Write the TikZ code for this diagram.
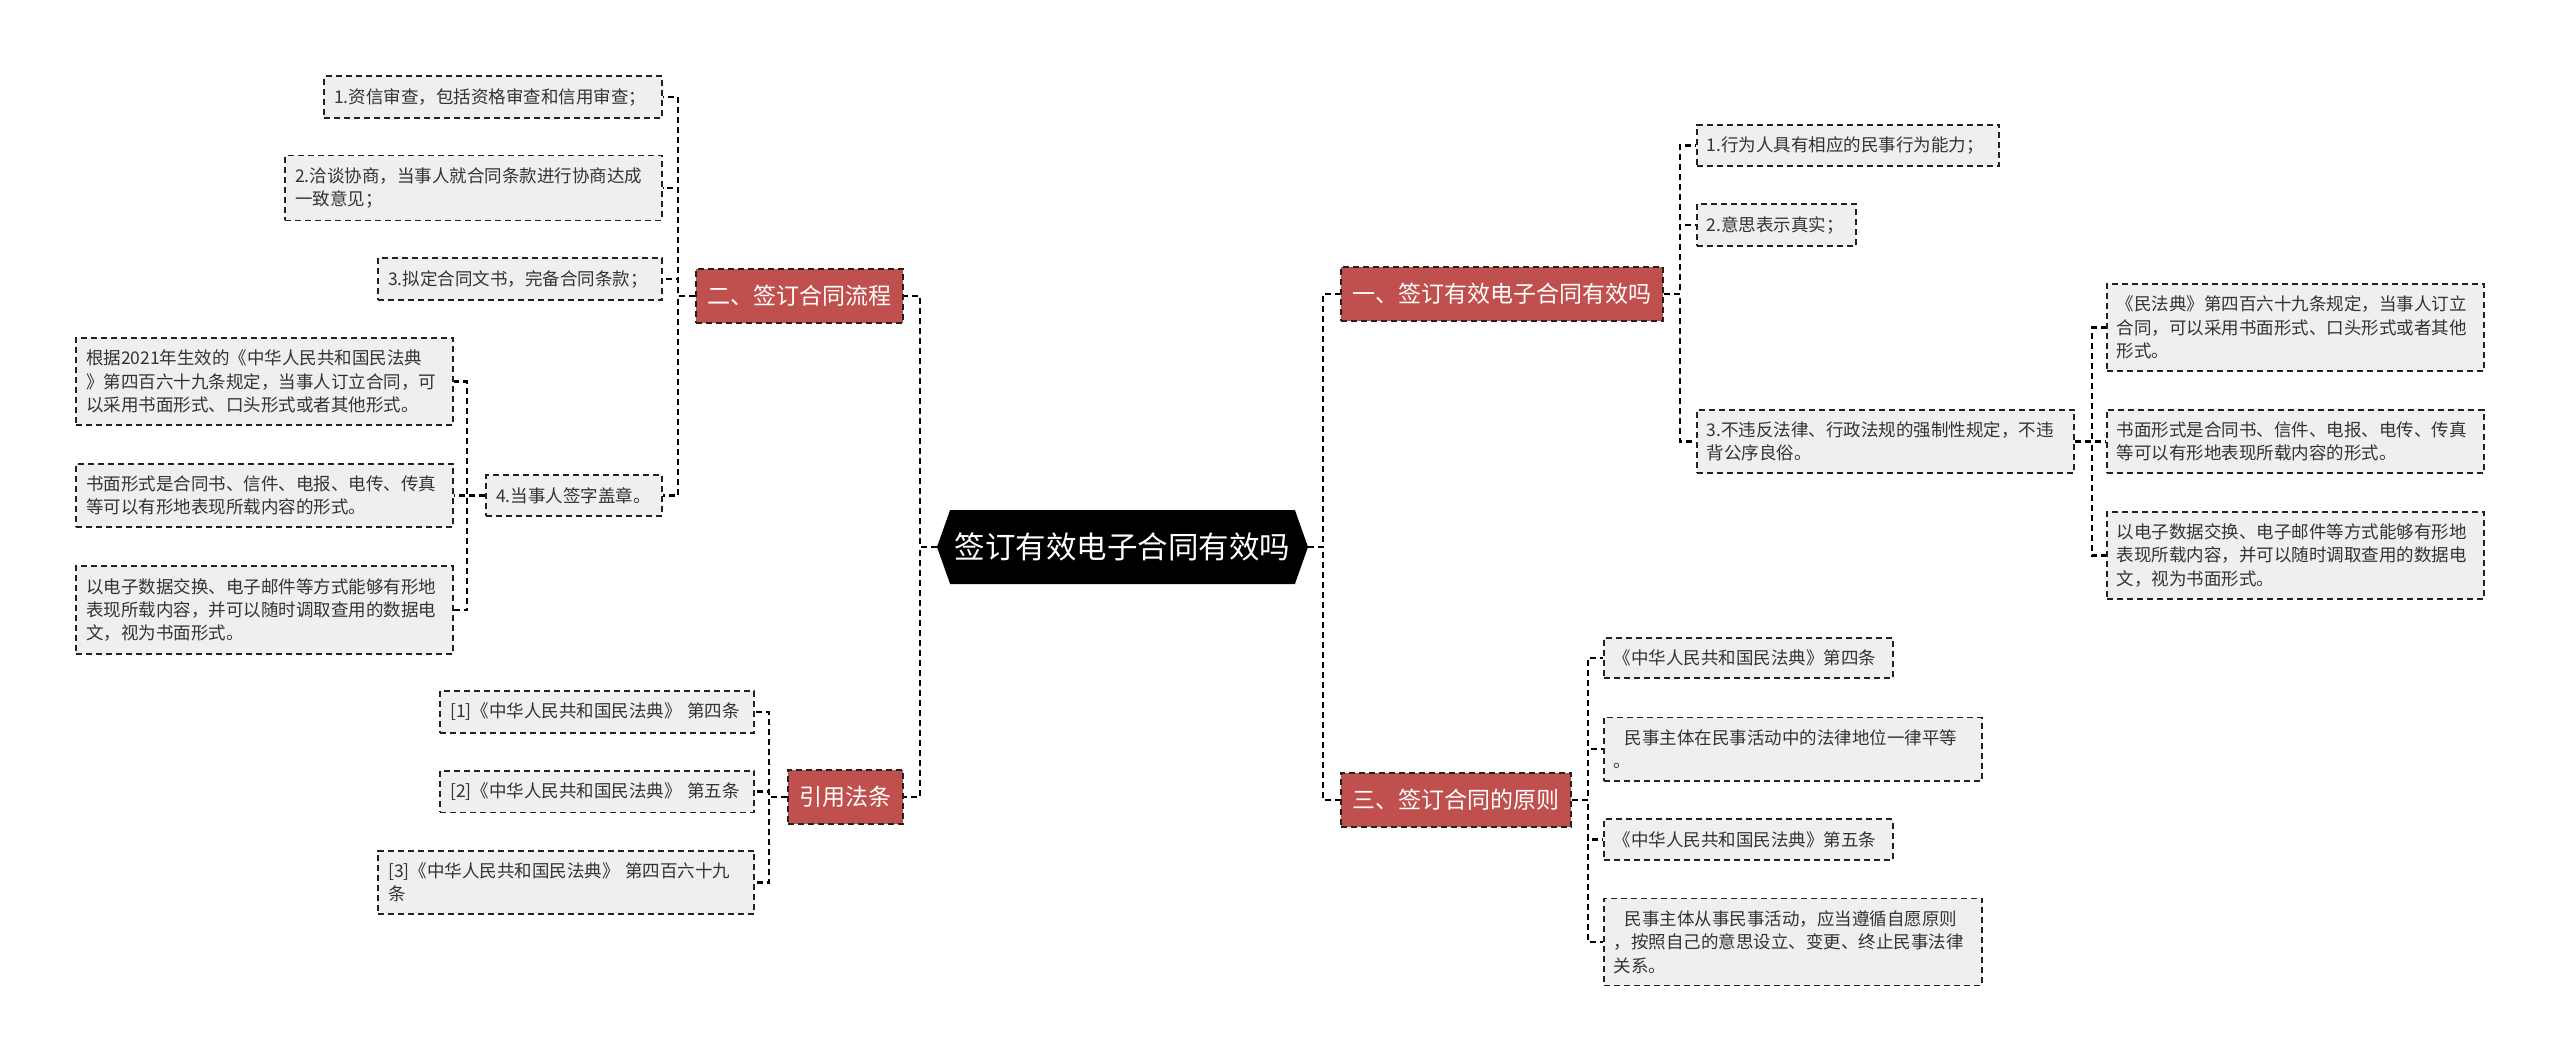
\documentclass[tikz,border=0pt]{standalone}
\usepackage{fontspec}
\setmainfont{Noto Sans CJK SC}
\usetikzlibrary{shapes.symbols,positioning}

\definecolor{branchred}{RGB}{192,80,77}
\definecolor{leafgray}{RGB}{239,239,239}
\definecolor{textgray}{RGB}{51,51,51}
\definecolor{edgegray}{RGB}{34,34,34}

\tikzset{
  basic/.style  = {draw=edgegray, line width=1.8pt, dash pattern=on 6pt off 4pt, rectangle},
  root/.style   = {signal, signal to=east and west, signal pointer angle=141,
                   fill=black, text=white, font=\fontsize{30.5}{36}\selectfont,
                   minimum width=371pt, minimum height=74pt, inner sep=0pt},
  branch/.style = {basic, fill=branchred, text=white, font=\fontsize{23}{28}\selectfont,
                   minimum height=54pt, inner xsep=11.5pt, inner ysep=0pt},
  leaf/.style   = {basic, fill=leafgray, text=textgray, align=left, text width=#1,
                   font=\fontsize{17.5}{23.3}\selectfont, inner xsep=10pt, inner ysep=12pt},
  link/.style   = {draw=black, line width=2.1pt, dash pattern=on 6pt off 4pt}
}

\begin{document}
\begin{tikzpicture}[x=1pt, y=-1pt]
\useasboundingbox (0,0) rectangle (2560,1063);

% the root in the middle
\node[root] (root) at (1122.5,547) {签订有效电子合同有效吗};

% first level, left and right of the root
\node[branch, anchor=east] (b2)  at (904,296)  {二、签订合同流程};
\node[branch, anchor=east] (ref) at (904,797)  {引用法条};
\node[branch, anchor=west] (b1)  at (1340,294) {一、签订有效电子合同有效吗};
\node[branch, anchor=west] (b3)  at (1340,800) {三、签订合同的原则};

% children of b2
\node[leaf=318pt, anchor=east] (b2c1) at (663,97)  {1.资信审查，包括资格审查和信用审查；};
\node[leaf=357pt, anchor=east] (b2c2) at (663,188) {2.洽谈协商，当事人就合同条款进行协商达成\\一致意见；};
\node[leaf=264pt, anchor=east] (b2c3) at (663,279) {3.拟定合同文书，完备合同条款；};
\node[leaf=156pt, anchor=east] (b2c4) at (663,495.5) {4.当事人签字盖章。};
\node[leaf=357pt, anchor=east] (b2c4a) at (454,381.5) {根据2021年生效的《中华人民共和国民法典\\》第四百六十九条规定，当事人订立合同，可\\以采用书面形式、口头形式或者其他形式。};
\node[leaf=357pt, anchor=east] (b2c4b) at (454,495.5) {书面形式是合同书、信件、电报、电传、传真\\等可以有形地表现所载内容的形式。};
\node[leaf=357pt, anchor=east] (b2c4c) at (454,610)   {以电子数据交换、电子邮件等方式能够有形地\\表现所载内容，并可以随时调取查用的数据电\\文，视为书面形式。};

% children of ref
\node[leaf=294pt, anchor=east] (ref1) at (755,712)   {[1]《中华人民共和国民法典》~第四条};
\node[leaf=294pt, anchor=east] (ref2) at (755,791.5) {[2]《中华人民共和国民法典》~第五条};
\node[leaf=356pt, anchor=east] (ref3) at (755,882.5) {[3]《中华人民共和国民法典》~第四百六十九\\条};

% children of b1
\node[leaf=282pt, anchor=west] (b1c1) at (1696,145.5) {1.行为人具有相应的民事行为能力；};
\node[leaf=139pt, anchor=west] (b1c2) at (1696,225)   {2.意思表示真实；};
\node[leaf=357pt, anchor=west] (b1c3) at (1696,441.5) {3.不违反法律、行政法规的强制性规定，不违\\背公序良俗。};
\node[leaf=357pt, anchor=west] (b1c3a) at (2106,327.5) {《民法典》第四百六十九条规定，当事人订立\\合同，可以采用书面形式、口头形式或者其他\\形式。};
\node[leaf=357pt, anchor=west] (b1c3b) at (2106,441.5) {书面形式是合同书、信件、电报、电传、传真\\等可以有形地表现所载内容的形式。};
\node[leaf=357pt, anchor=west] (b1c3c) at (2106,555.5) {以电子数据交换、电子邮件等方式能够有形地\\表现所载内容，并可以随时调取查用的数据电\\文，视为书面形式。};

% children of b3
\node[leaf=269pt, anchor=west] (b3c1) at (1603,658)   {《中华人民共和国民法典》第四条};
\node[leaf=358pt, anchor=west] (b3c2) at (1603,749)   {\hspace*{11pt}民事主体在民事活动中的法律地位一律平等\\。};
\node[leaf=269pt, anchor=west] (b3c3) at (1603,839.5) {《中华人民共和国民法典》第五条};
\node[leaf=358pt, anchor=west] (b3c4) at (1603,942)   {\hspace*{11pt}民事主体从事民事活动，应当遵循自愿原则\\，按照自己的意思设立、变更、终止民事法律\\关系。};

% connectors
\draw[link] (root.west) -- ++(-17,0) |- (b2.east);
\draw[link] (root.west) -- ++(-17,0) |- (ref.east);
\draw[link] (root.east) -- ++(15,0) |- (b1.west);
\draw[link] (root.east) -- ++(15,0) |- (b3.west);

\draw[link] (b2.west) -- ++(-17,0) |- (b2c1.east);
\draw[link] (b2.west) -- ++(-17,0) |- (b2c2.east);
\draw[link] (b2.west) -- ++(-17,0) |- (b2c3.east);
\draw[link] (b2.west) -- ++(-17,0) |- (b2c4.east);
\draw[link] (b2c4.west) -- ++(-18,0) |- (b2c4a.east);
\draw[link] (b2c4.west) -- ++(-18,0) |- (b2c4b.east);
\draw[link] (b2c4.west) -- ++(-18,0) |- (b2c4c.east);

\draw[link] (ref.west) -- ++(-18,0) |- (ref1.east);
\draw[link] (ref.west) -- ++(-18,0) |- (ref2.east);
\draw[link] (ref.west) -- ++(-18,0) |- (ref3.east);

\draw[link] (b1.east) -- ++(16,0) |- (b1c1.west);
\draw[link] (b1.east) -- ++(16,0) |- (b1c2.west);
\draw[link] (b1.east) -- ++(16,0) |- (b1c3.west);
\draw[link] (b1c3.east) -- ++(17,0) |- (b1c3a.west);
\draw[link] (b1c3.east) -- ++(17,0) |- (b1c3b.west);
\draw[link] (b1c3.east) -- ++(17,0) |- (b1c3c.west);

\draw[link] (b3.east) -- ++(16,0) |- (b3c1.west);
\draw[link] (b3.east) -- ++(16,0) |- (b3c2.west);
\draw[link] (b3.east) -- ++(16,0) |- (b3c3.west);
\draw[link] (b3.east) -- ++(16,0) |- (b3c4.west);

\end{tikzpicture}
\end{document}
